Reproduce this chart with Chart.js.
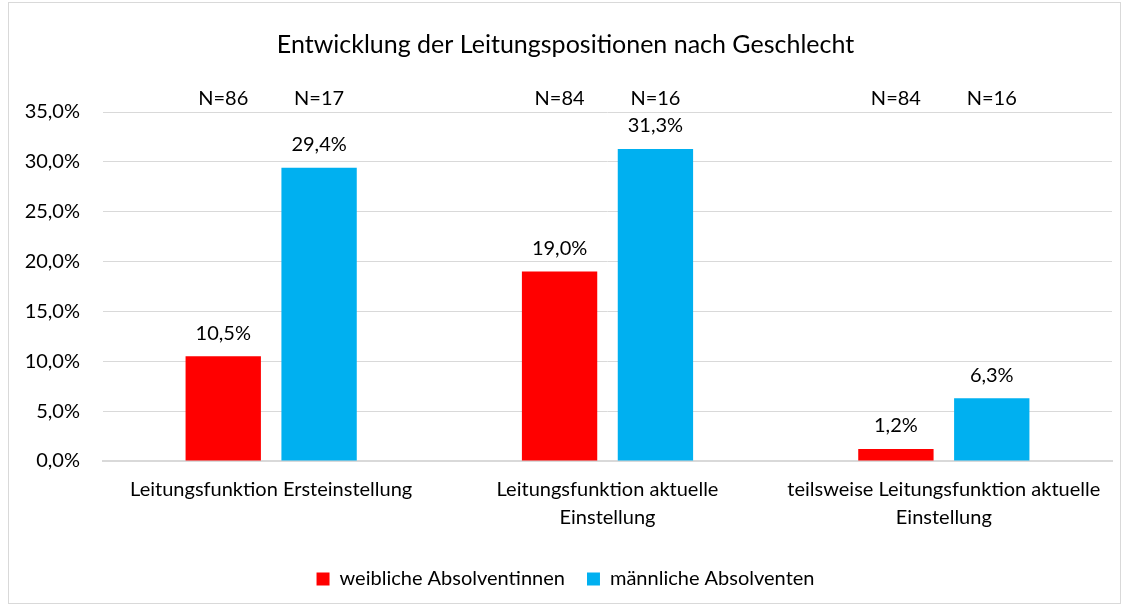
<!DOCTYPE html>
<html>
<head>
<meta charset="utf-8">
<script src="https://cdn.jsdelivr.net/npm/chart.js@4"></script>
<style>
  body { margin: 0; background: #fff; }
  #box { position: absolute; left: 8px; top: 2px; width: 1111px; height: 600px; border: 1px solid #d9d9d9; }
  canvas { display: block; }
</style>
</head>
<body>
<div id="box"><canvas id="chart" width="1111" height="600"></canvas></div>
<script>
const kategorien = ['Leitungsfunktion Ersteinstellung', ['Leitungsfunktion aktuelle', 'Einstellung'], ['teilsweise Leitungsfunktion aktuelle', 'Einstellung']];
const weiblich = [10.5, 19.0, 1.2];
const maennlich = [29.4, 31.3, 6.3];
const nWeiblich = [86, 84, 84];
const nMaennlich = [17, 16, 16];

const schrift = 'Lato, "Open Sans", sans-serif';
const fmt = v => v.toFixed(1).replace('.', ',') + '%';

const beschriftung = {
    id: 'beschriftung',
    afterDatasetsDraw(chart) {
        const ctx = chart.ctx;
        ctx.save();
        ctx.font = '20px ' + schrift;
        ctx.fillStyle = '#000';
        ctx.textAlign = 'center';
        ctx.textBaseline = 'middle';
        const nListen = [nWeiblich, nMaennlich];
        chart.data.datasets.forEach((ds, i) => {
            chart.getDatasetMeta(i).data.forEach((bar, j) => {
                ctx.fillText(fmt(ds.data[j]), bar.x, bar.y - 23);
                ctx.fillText('N=' + nListen[i][j], bar.x, chart.chartArea.top - 13);
            });
        });
        ctx.restore();
    }
};

new Chart(document.getElementById('chart'), {
    type: 'bar',
    data: {
        labels: kategorien,
        datasets: [
            {
                label: 'weibliche Absolventinnen',
                data: weiblich,
                backgroundColor: '#ff0000',
                barPercentage: 0.786,
                categoryPercentage: 0.57
            },
            {
                label: 'männliche Absolventen',
                data: maennlich,
                backgroundColor: '#00b0f0',
                barPercentage: 0.786,
                categoryPercentage: 0.57
            }
        ]
    },
    options: {
        responsive: false,
        animation: false,
        layout: { padding: { left: 10, right: 8, top: 0, bottom: 4 } },
        plugins: {
            title: {
                display: true,
                text: 'Entwicklung der Leitungspositionen nach Geschlecht',
                color: '#000',
                font: { family: schrift, size: 25, weight: 'normal' },
                padding: { top: 27, bottom: 52 }
            },
            legend: {
                position: 'bottom',
                labels: {
                    color: '#000',
                    font: { family: schrift, size: 20 },
                    boxWidth: 13,
                    boxHeight: 13,
                    padding: 22
                }
            },
            tooltip: { enabled: false }
        },
        scales: {
            y: {
                min: 0,
                max: 35,
                ticks: {
                    stepSize: 5,
                    color: '#000',
                    padding: 23,
                    font: { family: schrift, size: 20 },
                    callback: v => fmt(v)
                },
                grid: { color: '#d9d9d9', drawTicks: false },
                border: { display: false },
                afterFit: s => { s.width = 84; }
            },
            x: {
                ticks: {
                    color: '#000',
                    padding: 15,
                    maxRotation: 0,
                    font: { family: schrift, size: 20, lineHeight: 1.4 }
                },
                grid: { display: false, drawTicks: false },
                border: { color: '#d9d9d9', width: 2 }
            }
        }
    },
    plugins: [beschriftung]
});
</script>
</body>
</html>
